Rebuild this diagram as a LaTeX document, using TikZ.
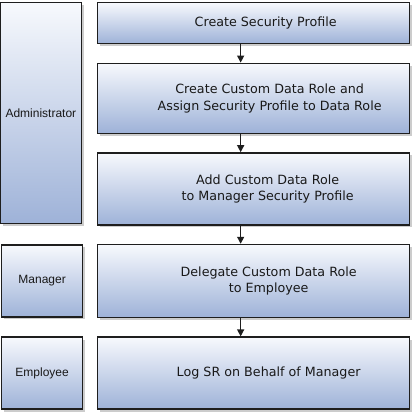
\documentclass[tikz,border=0pt]{standalone}
\usepackage{fontspec}
\setmainfont{DejaVu Sans}
\newfontfamily\rolefont{Liberation Sans}
\usepackage{tikz}
\usetikzlibrary{arrows.meta, positioning, shadows}

\definecolor{boxtop}{RGB}{247,249,253}
\definecolor{boxbottom}{RGB}{158,178,216}
\definecolor{boxline}{RGB}{30,30,30}

\begin{document}
\begin{tikzpicture}[
    x=1pt, y=1pt,
    node distance=18.3pt and 13.7pt,
    stepbox/.style={rectangle, draw=boxline, line width=1.3pt, top color=boxtop, bottom color=boxbottom,
        drop shadow={shadow xshift=2.5pt, shadow yshift=-2.5pt, fill=black!20, opacity=1},
        minimum width=312pt, minimum height=72pt},
    rolebox/.style={stepbox, minimum width=81pt},
    steptext/.style={font=\fontsize{12.7}{16.5}\selectfont, align=center, text=black!90},
    roletext/.style={font=\rolefont\fontsize{12}{14}\selectfont, text=black!90},
    arrow/.style={line width=1.3pt, draw=boxline, -{Triangle[length=7pt, width=7pt]}}
]
\useasboundingbox (0,0) rectangle (414,-413);

% Steps
\node (create) [stepbox, minimum height=41pt, anchor=north west] at (97,-2) {};
\node (assign) [stepbox, below=of create, minimum height=70pt] {};
\node (addrole) [stepbox, below=of assign] {};
\node (delegate) [stepbox, below=of addrole, minimum height=73pt] {};
\node (logsr) [stepbox, below=of delegate] {};

% Step texts
\node (createtxt) [steptext] at ([xshift=12pt]create.center) {Create Security Profile};
\node (assigntxt) [steptext] at ([xshift=16pt]assign.center) {Create Custom Data Role and\\Assign Security Profile to Data Role};
\node (addroletxt) [steptext] at ([xshift=14pt]addrole.center) {Add Custom Data Role\\to Manager Security Profile};
\node (delegatetxt) [steptext] at ([xshift=15pt]delegate.center) {Delegate Custom Data Role\\to Employee};
\node (logsrtxt) [steptext] at ([xshift=15pt]logsr.center) {Log SR on Behalf of Manager};

% Roles
\node (admin) [rolebox, anchor=north east, minimum height=221pt] at ([xshift=-15pt]create.north west) {};
\node (manager) [rolebox, left=of delegate] {};
\node (employee) [rolebox, left=of logsr] {};
\node (admintxt) [roletext] at (admin.center) {Administrator};
\node (managertxt) [roletext] at (manager.center) {Manager};
\node (employeetxt) [roletext] at (employee.center) {Employee};

% Connections
\draw [arrow] ([xshift=-13pt]create.south) -- ([xshift=-13pt]assign.north);
\draw [arrow] ([xshift=-13pt]assign.south) -- ([xshift=-13pt]addrole.north);
\draw [arrow] ([xshift=-13pt]addrole.south) -- ([xshift=-13pt]delegate.north);
\draw [arrow] ([xshift=-13pt]delegate.south) -- ([xshift=-13pt]logsr.north);

\end{tikzpicture}
\end{document}
